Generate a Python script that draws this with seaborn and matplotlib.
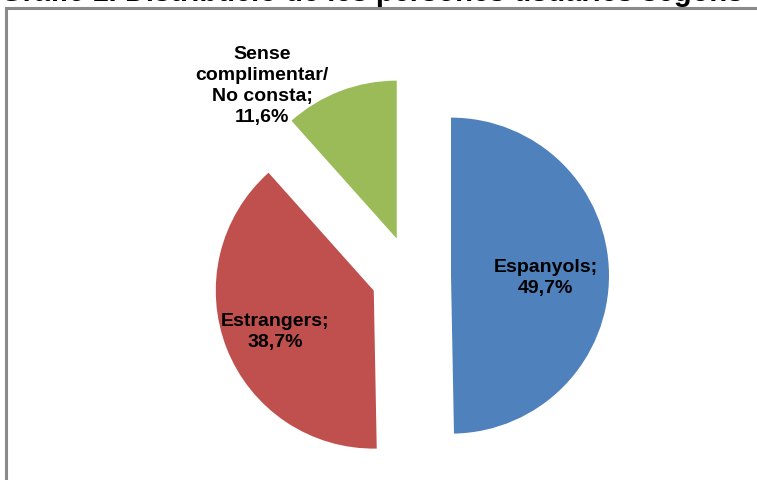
import numpy as np
import matplotlib
matplotlib.use("Agg")
import matplotlib.pyplot as plt
from matplotlib.patches import Rectangle
import seaborn as sns

# dades del gràfic
categories = ["Espanyols", "Estrangers", "Sense\ncomplimentar/\nNo consta"]
values = [49.7, 38.7, 11.6]
labels = ["Espanyols;\n49,7%", "Estrangers;\n38,7%", "Sense\ncomplimentar/\nNo consta;\n11,6%"]
colors = ["#4F81BD", "#C0504D", "#9BBB59"]

sns.set_theme(style="white")
plt.rcParams['font.family'] = ['Liberation Sans', 'DejaVu Sans']

W, H = 757, 481
fig = plt.figure(figsize=(W / 100, H / 100), dpi=100)
ax = fig.add_axes([0, 0, 1, 1])

R = 158
center = (411, H - 277)
# explode va en unitats de dades
explode = [40] * 3
wedges, _ = ax.pie(values, colors=sns.color_palette(colors), startangle=90,
                   counterclock=False, radius=R, center=center,
                   explode=explode, frame=True,
                   wedgeprops=dict(linewidth=0))
ax.set_xlim(0, W)
ax.set_ylim(0, H)
ax.set_aspect("equal")
ax.axis("off")

# marc del gràfic (surt per la dreta i per baix)
frame = Rectangle((6, -20), W + 40, H - 9 + 20, fill=False, lw=2.2,
                  edgecolor="#8a8a8a", zorder=0)
ax.add_patch(frame)

# etiquetes dins dels sectors
for w, lab, frac in zip(wedges[:2], labels[:2], [0.6, 0.67]):
    ang = np.deg2rad((w.theta1 + w.theta2) / 2)
    cx, cy = w.center
    ax.text(cx + frac * R * np.cos(ang), cy + frac * R * np.sin(ang) - 2, lab,
            ha="center", va="center", fontsize=14, fontweight="bold",
            color="black", linespacing=1.32)

# etiqueta del sector verd, a fora
ax.text(262, H - 86, labels[2], ha="center", va="center", fontsize=14,
        fontweight="bold", color="black", linespacing=1.32)

# títol tallat per dalt
fig.text(0.0, 1 - 1.0 / H, "Gràfic 1. Distribució de les persones usuàries segons",
         ha="left", va="baseline", fontsize=21, fontweight="bold", color="black")

fig.savefig("out.png", dpi=100)
